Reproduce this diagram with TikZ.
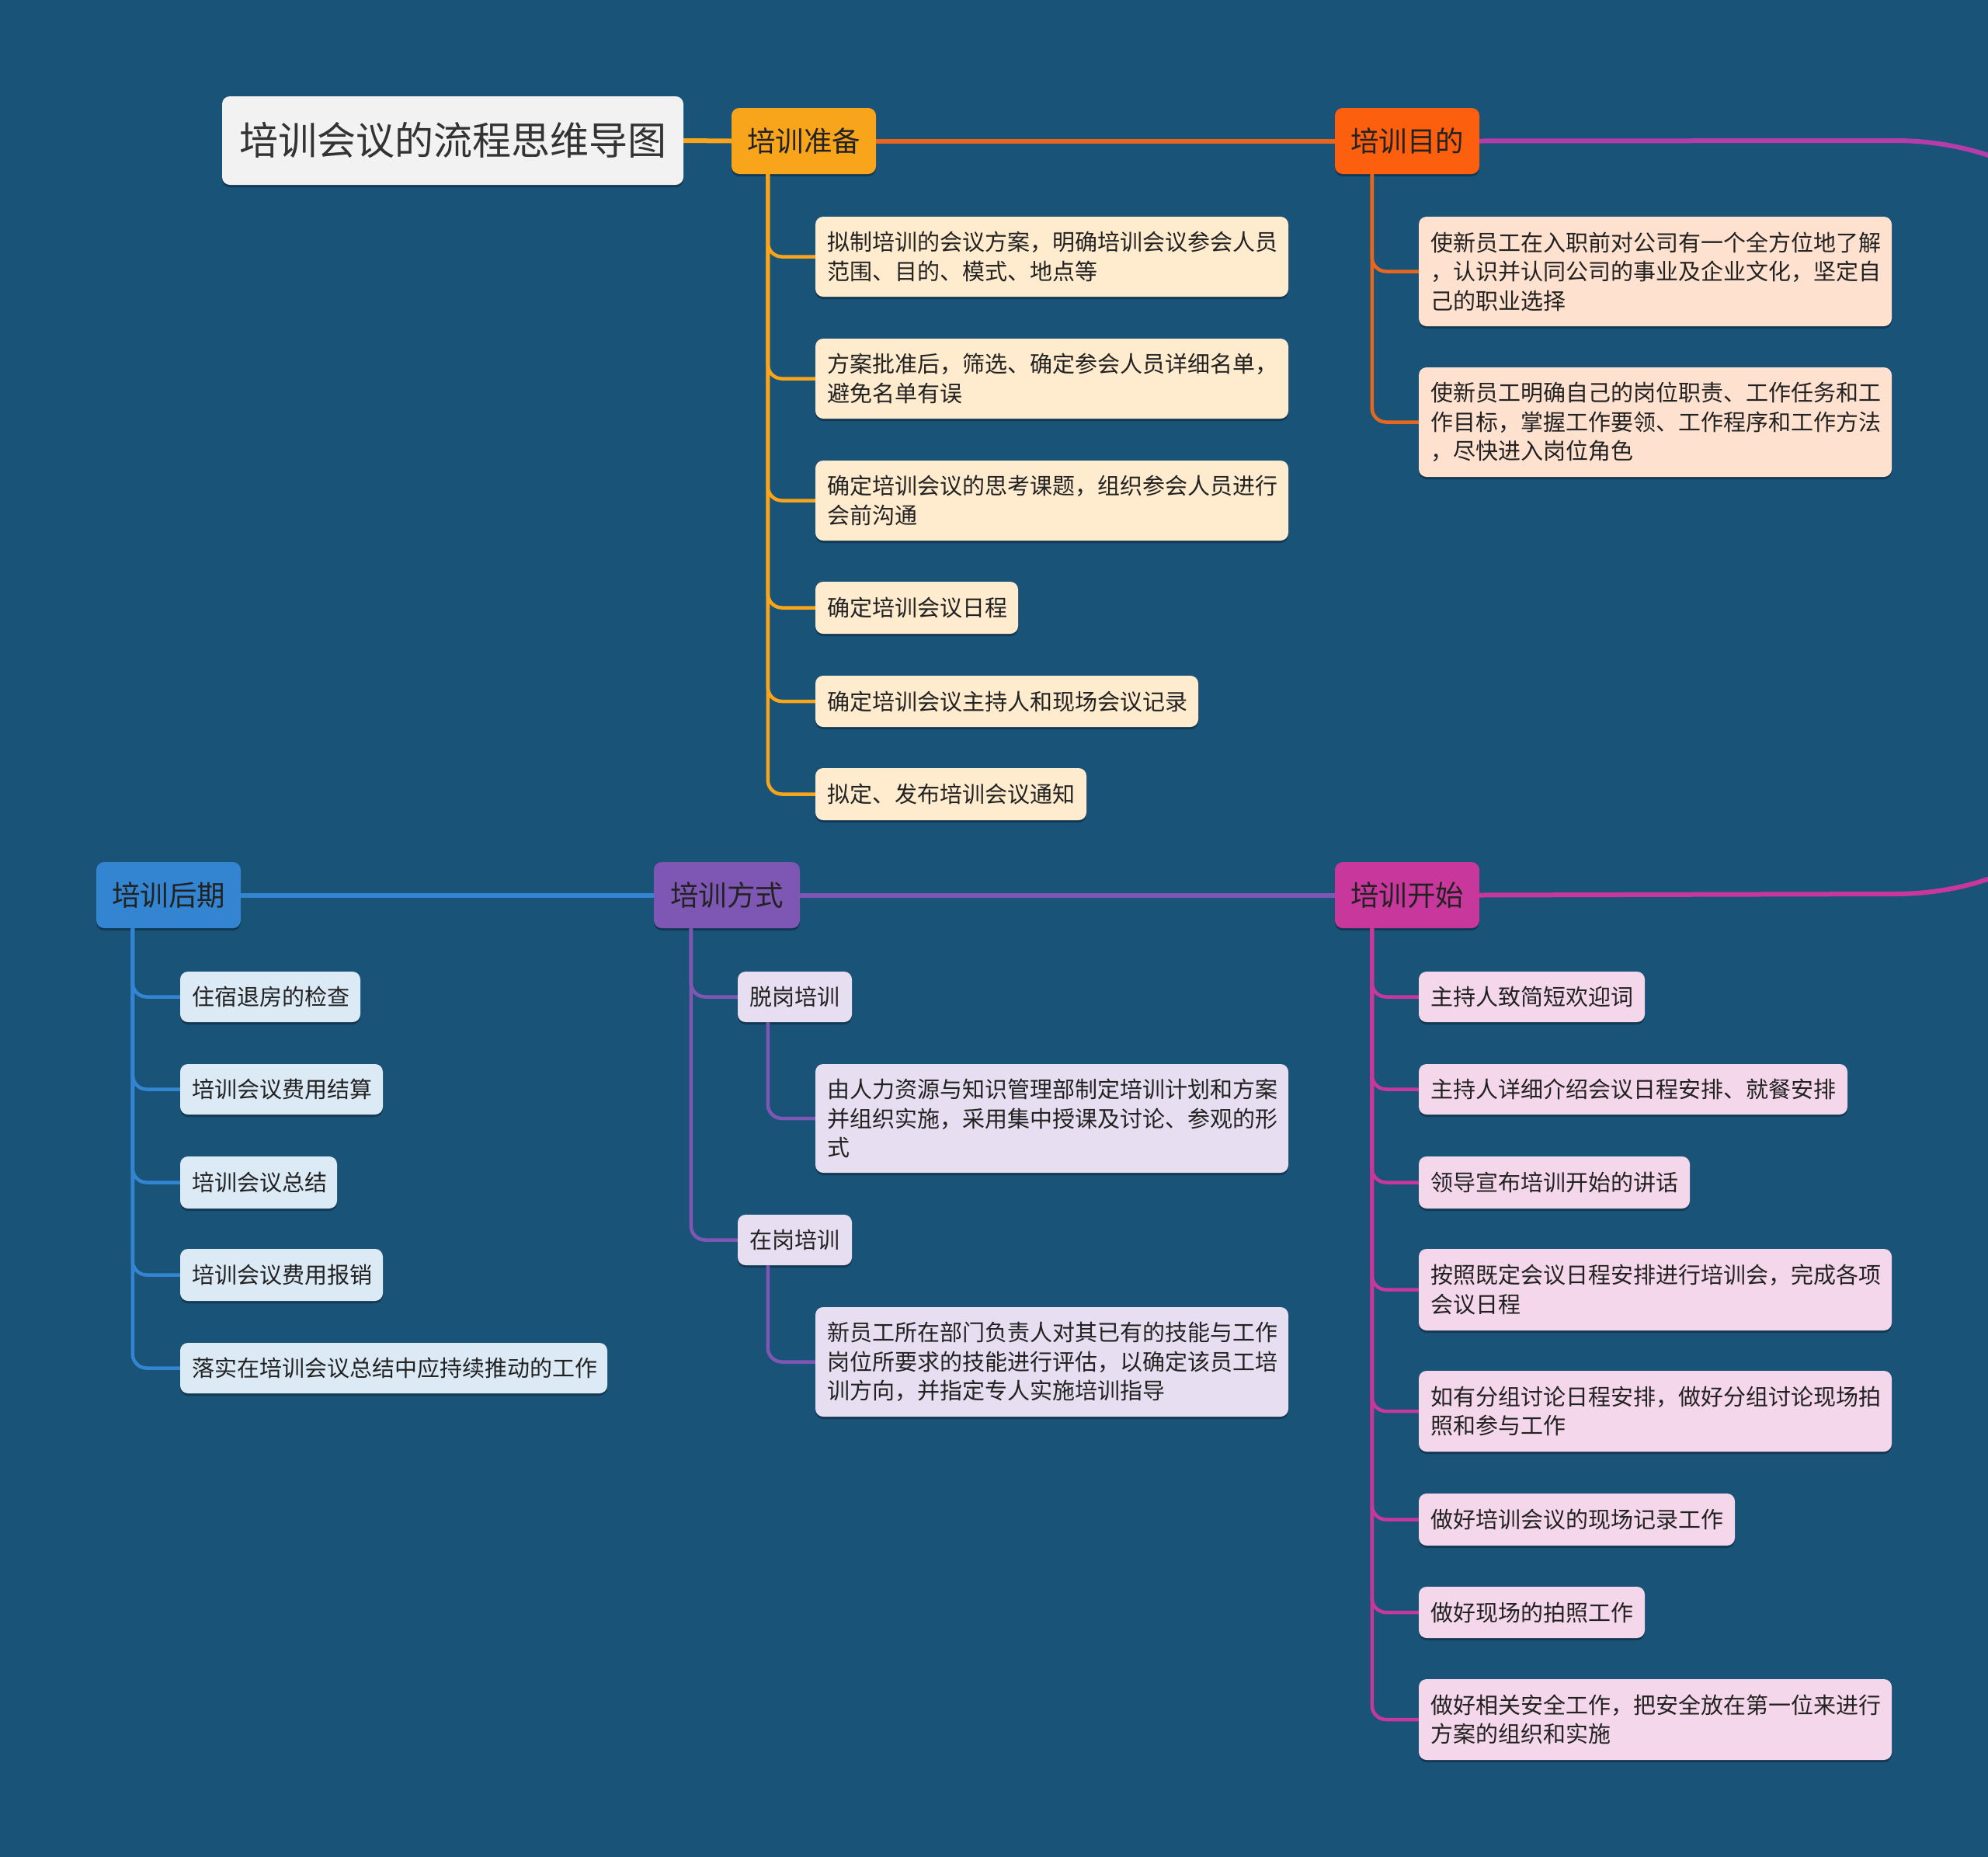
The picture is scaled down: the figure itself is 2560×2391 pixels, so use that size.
\documentclass[tikz,border=0pt]{standalone}
\usepackage{fontspec}
\setmainfont{Noto Sans CJK SC}
\usetikzlibrary{shadows}
\definecolor{bg}{HTML}{1A5378}
\definecolor{cPrep}{HTML}{F8A51C}
\definecolor{cGoal}{HTML}{FC600F}
\definecolor{cGoalLine}{HTML}{E8661E}
\definecolor{cStart}{HTML}{C8379B}
\definecolor{cLoop}{HTML}{B43DAA}
\definecolor{cMethod}{HTML}{7D57B3}
\definecolor{cPost}{HTML}{3385D1}
\definecolor{fTitle}{HTML}{F2F2F2}
\definecolor{fPrep}{HTML}{FFEBCD}
\definecolor{fGoal}{HTML}{FFE1CF}
\definecolor{fStart}{HTML}{F5D7EB}
\definecolor{fMethod}{HTML}{E7DFF1}
\definecolor{fPost}{HTML}{DCEAF6}
\definecolor{txt}{HTML}{222222}
\newcommand\NodeBox[7]{%
  \pgfmathsetmacro\nbW{#5-#3}\pgfmathsetmacro\nbH{#6-#4}%
  \pgfmathsetmacro\nbT{#5-#3-30}%
  \pgfmathsetmacro\nbX{(#3+#5)/2}\pgfmathsetmacro\nbY{(#4+#6)/2}%
  \node[#2, minimum width=\nbW pt, minimum height=\nbH pt, text width=\nbT pt] (#1) at (\nbX,\nbY) {#7};}
\tikzset{
  anybox/.style={rounded corners=10pt, inner xsep=15pt, inner ysep=0pt, text=txt,
    drop shadow={shadow xshift=0pt, shadow yshift=-3pt, opacity=0.3, fill=black}},
  titlebox/.style={anybox, fill=fTitle, align=center, text=black!80, font=\fontsize{50}{58}\selectfont},
  mainbox/.style={anybox, align=center, font=\fontsize{36.5}{44}\selectfont},
  childbox/.style={anybox, align=left, font=\fontsize{29}{37.6}\selectfont},
  mline/.style={line width=6pt},
  cline/.style={line width=4.5pt, rounded corners=18pt},
}
\begin{document}
\begin{tikzpicture}[x=1pt,y=-1pt]
\useasboundingbox (0,0) rectangle (2560,2391);
\fill[bg] (0,0) rectangle (2560,2391);

% main nodes
\NodeBox{title}{titlebox}{286}{124}{880}{238}{培训会议的流程思维导图}
\NodeBox{prep}{mainbox, fill=cPrep}{942}{139}{1128}{224}{培训准备}
\NodeBox{goal}{mainbox, fill=cGoal}{1719}{139}{1905}{224}{培训目的}
\NodeBox{start}{mainbox, fill=cStart}{1719}{1110}{1905}{1195}{培训开始}
\NodeBox{method}{mainbox, fill=cMethod}{842}{1110}{1030}{1195}{培训方式}
\NodeBox{post}{mainbox, fill=cPost}{124}{1110}{310}{1195}{培训后期}

% main connectors
\draw[mline, cPrep] (title.east) -- (prep.west);
\draw[mline, cGoalLine] (prep.east) -- (goal.west);
\coordinate (loopR) at (2820,666);
\draw[mline, cLoop] (goal.east) -- (2440,181) .. controls (2620,181) and (2820,300) .. (loopR);
\draw[mline, cStart] (start.east) -- (2440,1151) .. controls (2620,1151) and (2820,1030) .. (loopR);
\draw[mline, cMethod] (start.west) -- (method.east);
\draw[mline, cPost] (method.west) -- (post.east);

% 培训准备 children
\NodeBox{p1}{childbox, fill=fPrep}{1050}{279}{1659}{382}{拟制培训的会议方案，明确培训会议参会人员\\范围、目的、模式、地点等}
\NodeBox{p2}{childbox, fill=fPrep}{1050}{436}{1659}{539}{方案批准后，筛选、确定参会人员详细名单，\\避免名单有误}
\NodeBox{p3}{childbox, fill=fPrep}{1050}{593}{1659}{696}{确定培训会议的思考课题，组织参会人员进行\\会前沟通}
\NodeBox{p4}{childbox, fill=fPrep}{1050}{749}{1311}{816}{确定培训会议日程}
\NodeBox{p5}{childbox, fill=fPrep}{1050}{870}{1543}{936}{确定培训会议主持人和现场会议记录}
\NodeBox{p6}{childbox, fill=fPrep}{1050}{989}{1399}{1056}{拟定、发布培训会议通知}
\foreach \c in {p1,p2,p3,p4,p5,p6}
  \draw[cline, cPrep] ([xshift=47pt]prep.south west) |- (\c.west);

% 培训目的 children
\NodeBox{g1}{childbox, fill=fGoal}{1827}{279}{2436}{420}{使新员工在入职前对公司有一个全方位地了解\\，认识并认同公司的事业及企业文化，坚定自\\己的职业选择}
\NodeBox{g2}{childbox, fill=fGoal}{1827}{473}{2436}{614}{使新员工明确自己的岗位职责、工作任务和工\\作目标，掌握工作要领、工作程序和工作方法\\，尽快进入岗位角色}
\foreach \c in {g1,g2}
  \draw[cline, cGoalLine] ([xshift=48pt]goal.south west) |- (\c.west);

% 培训开始 children
\NodeBox{s1}{childbox, fill=fStart}{1827}{1251}{2118}{1316}{主持人致简短欢迎词}
\NodeBox{s2}{childbox, fill=fStart}{1827}{1370}{2379}{1435}{主持人详细介绍会议日程安排、就餐安排}
\NodeBox{s3}{childbox, fill=fStart}{1827}{1489}{2176}{1556}{领导宣布培训开始的讲话}
\NodeBox{s4}{childbox, fill=fStart}{1827}{1608}{2436}{1713}{按照既定会议日程安排进行培训会，完成各项\\会议日程}
\NodeBox{s5}{childbox, fill=fStart}{1827}{1765}{2436}{1869}{如有分组讨论日程安排，做好分组讨论现场拍\\照和参与工作}
\NodeBox{s6}{childbox, fill=fStart}{1827}{1923}{2234}{1990}{做好培训会议的现场记录工作}
\NodeBox{s7}{childbox, fill=fStart}{1827}{2043}{2118}{2109}{做好现场的拍照工作}
\NodeBox{s8}{childbox, fill=fStart}{1827}{2162}{2436}{2266}{做好相关安全工作，把安全放在第一位来进行\\方案的组织和实施}
\foreach \c in {s1,s2,s3,s4,s5,s6,s7,s8}
  \draw[cline, cStart] ([xshift=48pt]start.south west) |- (\c.west);

% 培训方式 children
\NodeBox{m1}{childbox, fill=fMethod}{950}{1251}{1097}{1316}{脱岗培训}
\NodeBox{m1a}{childbox, fill=fMethod}{1050}{1370}{1659}{1510}{由人力资源与知识管理部制定培训计划和方案\\并组织实施，采用集中授课及讨论、参观的形\\式}
\NodeBox{m2}{childbox, fill=fMethod}{950}{1564}{1097}{1629}{在岗培训}
\NodeBox{m2a}{childbox, fill=fMethod}{1050}{1683}{1659}{1824}{新员工所在部门负责人对其已有的技能与工作\\岗位所要求的技能进行评估，以确定该员工培\\训方向，并指定专人实施培训指导}
\foreach \c in {m1,m2}
  \draw[cline, cMethod] ([xshift=48pt]method.south west) |- (\c.west);
\draw[cline, cMethod] ([xshift=39pt]m1.south west) |- (m1a.west);
\draw[cline, cMethod] ([xshift=39pt]m2.south west) |- (m2a.west);

% 培训后期 children
\NodeBox{q1}{childbox, fill=fPost}{232}{1251}{464}{1316}{住宿退房的检查}
\NodeBox{q2}{childbox, fill=fPost}{232}{1370}{493}{1435}{培训会议费用结算}
\NodeBox{q3}{childbox, fill=fPost}{232}{1489}{434}{1556}{培训会议总结}
\NodeBox{q4}{childbox, fill=fPost}{232}{1608}{493}{1675}{培训会议费用报销}
\NodeBox{q5}{childbox, fill=fPost}{232}{1729}{782}{1794}{落实在培训会议总结中应持续推动的工作}
\foreach \c in {q1,q2,q3,q4,q5}
  \draw[cline, cPost] ([xshift=47pt]post.south west) |- (\c.west);
\end{tikzpicture}
\end{document}
